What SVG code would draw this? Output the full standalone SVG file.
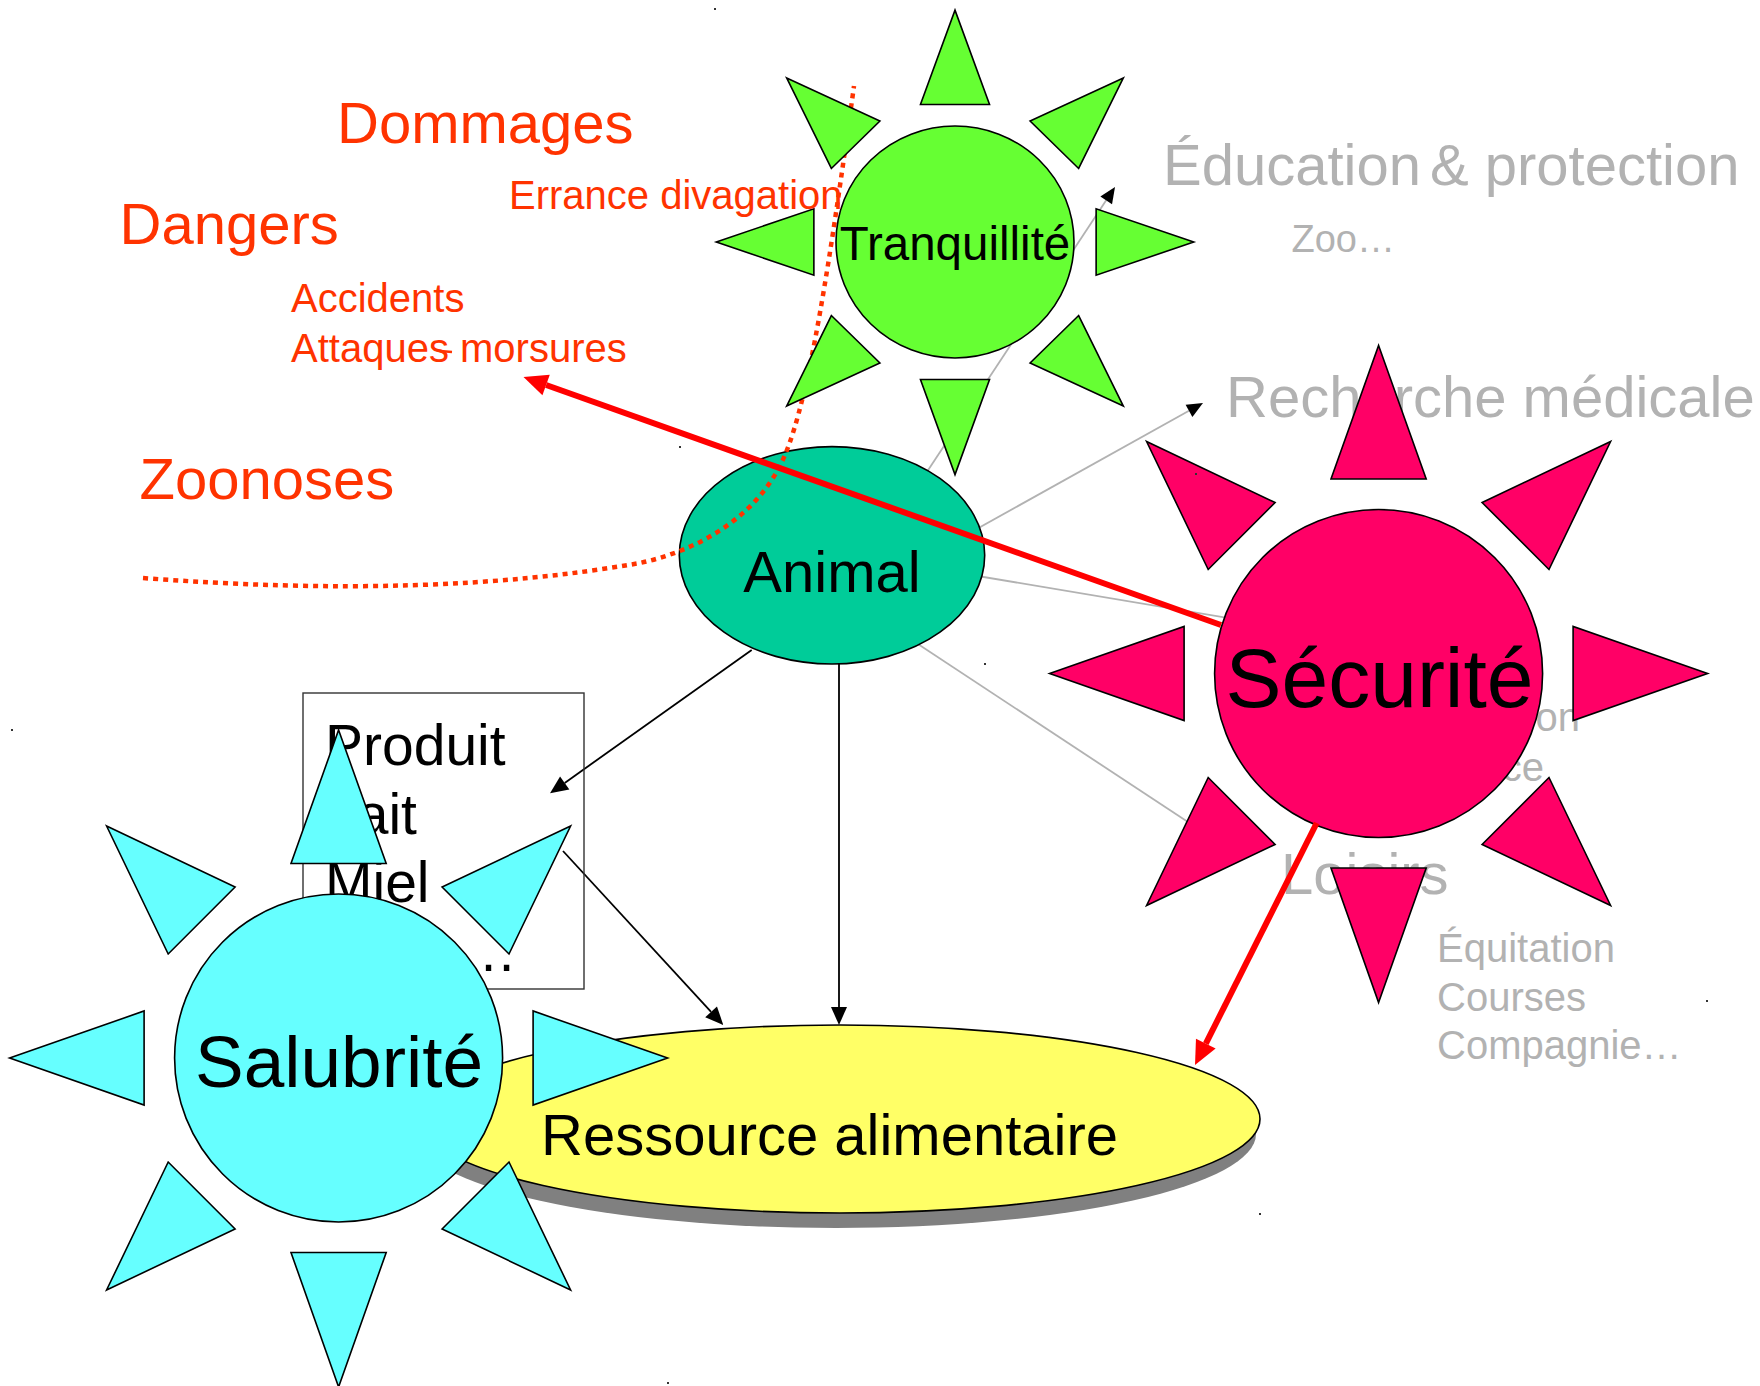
<svg xmlns="http://www.w3.org/2000/svg" width="1760" height="1386" viewBox="0 0 1760 1386">
<style>
text{font-family:"Liberation Sans",Arial,"DejaVu Sans",sans-serif}
.red{fill:#FF3300}
.gray{fill:#B2B2B2}
.blk{fill:#000}
.gline{stroke:#B2B2B2;stroke-width:1.8;fill:none}
.bline{stroke:#000;stroke-width:1.8;fill:none}
.rline{stroke:#FF0000;stroke-width:6;fill:none}
.dot{fill:#333}
</style>
<defs>
<g id="sun" stroke="#000" stroke-width="1.6" vector-effect="non-scaling-stroke">
<polygon vector-effect="non-scaling-stroke" points="0,-328 47.6,-194.5 -47.6,-194.5"/>
<polygon vector-effect="non-scaling-stroke" points="0,329 47.6,194.5 -47.6,194.5"/>
<polygon vector-effect="non-scaling-stroke" points="-329,0 -194.5,-47 -194.5,47"/>
<polygon vector-effect="non-scaling-stroke" points="329,0 194.5,-47 194.5,47"/>
<polygon vector-effect="non-scaling-stroke" points="-232,-232 -103.5,-171 -170.4,-104"/>
<polygon vector-effect="non-scaling-stroke" points="232,-232 103.5,-171 170.4,-104"/>
<polygon vector-effect="non-scaling-stroke" points="-232,232 -103.5,171 -170.4,104"/>
<polygon vector-effect="non-scaling-stroke" points="232,232 103.5,171 170.4,104"/>
<circle vector-effect="non-scaling-stroke" r="164"/>
</g>
<marker id="arrB" markerUnits="userSpaceOnUse" markerWidth="20" markerHeight="18" refX="0" refY="8" orient="auto" overflow="visible">
<path d="M0,0 L18,8 L0,16 Z" fill="#000"/>
</marker>
<marker id="arrG" markerUnits="userSpaceOnUse" markerWidth="18" markerHeight="16" refX="0" refY="7" orient="auto" overflow="visible">
<path d="M0,0 L16,7 L0,14 Z" fill="#000"/>
</marker>
<marker id="arrR" markerUnits="userSpaceOnUse" markerWidth="26" markerHeight="24" refX="0" refY="11" orient="auto" overflow="visible">
<path d="M0,0 L24,11 L0,22 Z" fill="#FF0000"/>
</marker>
</defs>
<rect width="1760" height="1386" fill="#fff"/>

<g id="connectors-back">
<line class="gline" x1="880" y1="543" x2="1106.2" y2="200.3" marker-end="url(#arrG)"/>
<line class="gline" x1="900" y1="571.7" x2="1189" y2="410.8" marker-end="url(#arrG)"/>
<line class="gline" x1="900" y1="563" x2="1300" y2="630"/>
<line class="gline" x1="880" y1="619" x2="1235" y2="853"/>
<line class="bline" x1="751.7" y1="650" x2="564.7" y2="782.9" marker-end="url(#arrB)"/>
<line class="bline" x1="563" y1="851" x2="711.1" y2="1011.8" marker-end="url(#arrB)"/>
<line class="bline" x1="839" y1="664" x2="839" y2="1007" marker-end="url(#arrB)"/>
</g>

<g id="node-ressource">
<ellipse cx="836" cy="1134" rx="420" ry="94" fill="#808080"/>
<ellipse cx="840" cy="1119" rx="420" ry="94" fill="#FFFF66" stroke="#000" stroke-width="1.6"/>
<text class="blk" x="541" y="1155" font-size="58">Ressource alimentaire</text>
</g>

<g id="node-produit">
<rect x="303" y="693" width="281" height="296" fill="none" stroke="#333" stroke-width="1.4"/>
<text class="blk" x="325" y="765" font-size="57">Produit</text>
<text class="blk" x="325" y="834" font-size="57">Lait</text>
<text class="blk" x="325" y="902" font-size="57">Miel</text>
<text class="blk" x="460" y="971" font-size="57">…</text>
</g>

<g id="node-animal">
<ellipse cx="832" cy="555.3" rx="152.7" ry="108.7" fill="#00CC99" stroke="#000" stroke-width="1.6"/>
<text class="blk" x="832" y="592" font-size="58" text-anchor="middle">Animal</text>
</g>

<g id="zone-boundary">
<path d="M143,578 Q430,600 640,563 C700,550 760,515 785,455 C810,395 830,260 854,86" fill="none" stroke="#FF3300" stroke-width="4.5" stroke-dasharray="5 5"/>
</g>

<g id="node-tranquillite">
<use href="#sun" transform="translate(955,242) scale(0.7256,0.707)" fill="#66FF33"/>
<text class="blk" x="955" y="260" font-size="47.5" text-anchor="middle">Tranquillité</text>
</g>

<g id="labels-gray">
<text class="gray" x="1163" y="185" font-size="58">Éducation<tspan dx="9">&amp; protection</tspan></text>
<text class="gray" x="1291.5" y="252" font-size="38">Zoo…</text>
<text class="gray" x="1226" y="417" font-size="58">Recherche médicale</text>
<text class="gray" x="1580" y="731" font-size="40" text-anchor="end">on</text>
<text class="gray" x="1544" y="781" font-size="40" text-anchor="end">ce</text>
<text class="gray" x="1281" y="894" font-size="58">Loisirs</text>
<text class="gray" x="1437" y="962" font-size="40">Équitation</text>
<text class="gray" x="1437" y="1010.5" font-size="40">Courses</text>
<text class="gray" x="1437" y="1059" font-size="40">Compagnie…</text>
</g>

<g id="node-securite">
<use href="#sun" transform="translate(1378.6,673.5)" fill="#FF0066"/>
<text class="blk" x="1379.5" y="707" font-size="84" text-anchor="middle">Sécurité</text>
</g>

<g id="node-salubrite">
<use href="#sun" transform="translate(338.6,1058)" fill="#66FFFF"/>
<text class="blk" x="339" y="1087" font-size="73" text-anchor="middle">Salubrité</text>
</g>

<g id="connectors-front">
<line class="rline" x1="1221" y1="625" x2="546.1" y2="385" marker-end="url(#arrR)"/>
<line class="rline" x1="1316.7" y1="823" x2="1205.8" y2="1043.6" marker-end="url(#arrR)"/>
</g>

<g id="labels-red">
<text class="red" x="337" y="143" font-size="58">Dommages</text>
<text class="red" x="119.5" y="244" font-size="58">Dangers</text>
<text class="red" x="509" y="209" font-size="40">Errance divagation</text>
<text class="red" x="291" y="312" font-size="40">Accidents</text>
<text class="red" x="291" y="362" font-size="40">Attaques morsures</text>
<line x1="440" y1="351" x2="452" y2="352" stroke="#FF3300" stroke-width="2.5"/>
<text class="red" x="139.5" y="499" font-size="58">Zoonoses</text>
</g>

<g id="specks">
<rect class="dot" x="714" y="8" width="2" height="2"/>
<rect class="dot" x="11" y="729" width="2" height="2"/>
<rect class="dot" x="679" y="446" width="2" height="2"/>
<rect class="dot" x="984" y="663" width="2" height="2"/>
<rect class="dot" x="1706" y="1000" width="2" height="2"/>
<rect class="dot" x="1259" y="1213" width="2" height="2"/>
<rect class="dot" x="667" y="1382" width="2" height="2"/>
<rect class="dot" x="1195" y="473" width="2" height="2"/>
</g>
</svg>
